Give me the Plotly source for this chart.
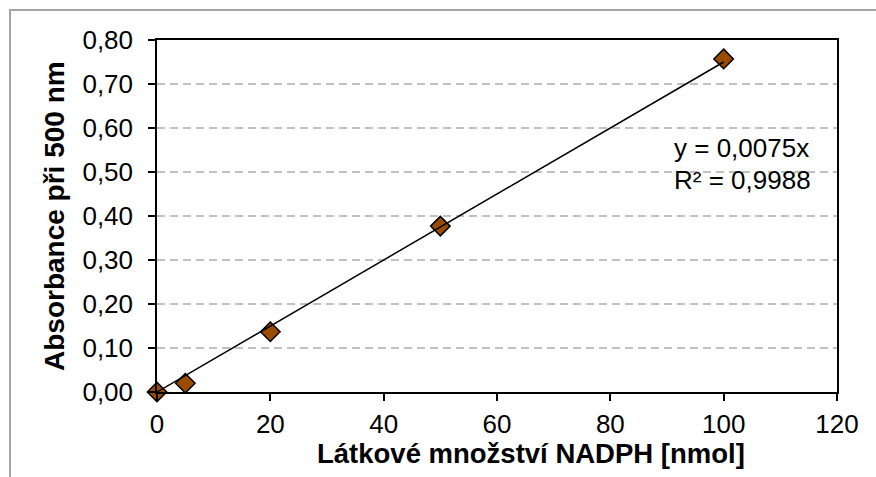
import plotly.graph_objects as go

# Data
x_nmol = [0, 5, 20, 50, 100]
absorbance = [0.0, 0.020, 0.137, 0.377, 0.757]
trend_x = [0, 100]
slope = 0.0075
eq_lines = ["y = 0,0075x", "R² = 0,9988"]
x_title = "Látkové množství NADPH [nmol]"
y_title = "Absorbance při 500 nm"

W, H = 876, 477
L, R, T, B = 157, 837, 40, 392

def px(xp):
    return (xp - L) / (R - L)

def py(yp):
    return (B - yp) / (B - T)

FONT = "Liberation Sans, Arial, sans-serif"

fig = go.Figure()
fig.add_trace(go.Scatter(
    x=x_nmol, y=absorbance, mode="markers",
    marker=dict(symbol="diamond", size=15, color="#994C00",
                line=dict(color="black", width=1.5)),
    cliponaxis=False, showlegend=False))
fig.add_trace(go.Scatter(
    x=trend_x, y=[slope * v for v in trend_x], mode="lines",
    line=dict(color="black", width=1.5), cliponaxis=False, showlegend=False))

fig.update_layout(
    width=W, height=H,
    margin=dict(l=L, r=W - R, t=T, b=H - B),
    paper_bgcolor="white", plot_bgcolor="white",
    separators=", ",
    font=dict(family=FONT, size=26, color="black"),
    xaxis=dict(range=[0, 120], dtick=20, tick0=0, showgrid=False, zeroline=False,
               showline=True, linecolor="black", linewidth=1.5, mirror=True,
               ticks="outside", ticklen=7, tickwidth=1.5, tickcolor="black",
               tickfont=dict(size=26), ticklabelstandoff=1),
    yaxis=dict(range=[0, 0.8], dtick=0.1, tick0=0, tickformat=".2f",
               showgrid=True, gridcolor="#c0c0c0", gridwidth=1.5, griddash="8px,5px",
               zeroline=False,
               showline=True, linecolor="black", linewidth=1.5, mirror=True,
               ticks="outside", ticklen=7, tickwidth=1.5, tickcolor="black",
               tickfont=dict(size=26), ticklabelstandoff=10),
    shapes=[dict(type="rect", xref="paper", yref="paper",
                 x0=px(10), x1=px(890), y0=py(490), y1=py(10),
                 line=dict(color="#a6a6a6", width=2), layer="below")],
    annotations=[
        dict(text=eq_lines[0], xref="paper", yref="paper", x=px(672), y=py(148),
             xanchor="left", yanchor="middle", showarrow=False, font=dict(size=26)),
        dict(text=eq_lines[1], xref="paper", yref="paper", x=px(672), y=py(180),
             xanchor="left", yanchor="middle", showarrow=False, font=dict(size=26)),
        dict(text="<b>" + x_title + "</b>", xref="paper", yref="paper", x=px(531), y=py(453),
             xanchor="center", yanchor="middle", showarrow=False, font=dict(size=27.5)),
        dict(text="<b>" + y_title + "</b>", xref="paper", yref="paper", x=px(54), y=py(216),
             xanchor="center", yanchor="middle", textangle=-90, showarrow=False,
             font=dict(size=28)),
    ],
)

fig.write_html("out.html")
